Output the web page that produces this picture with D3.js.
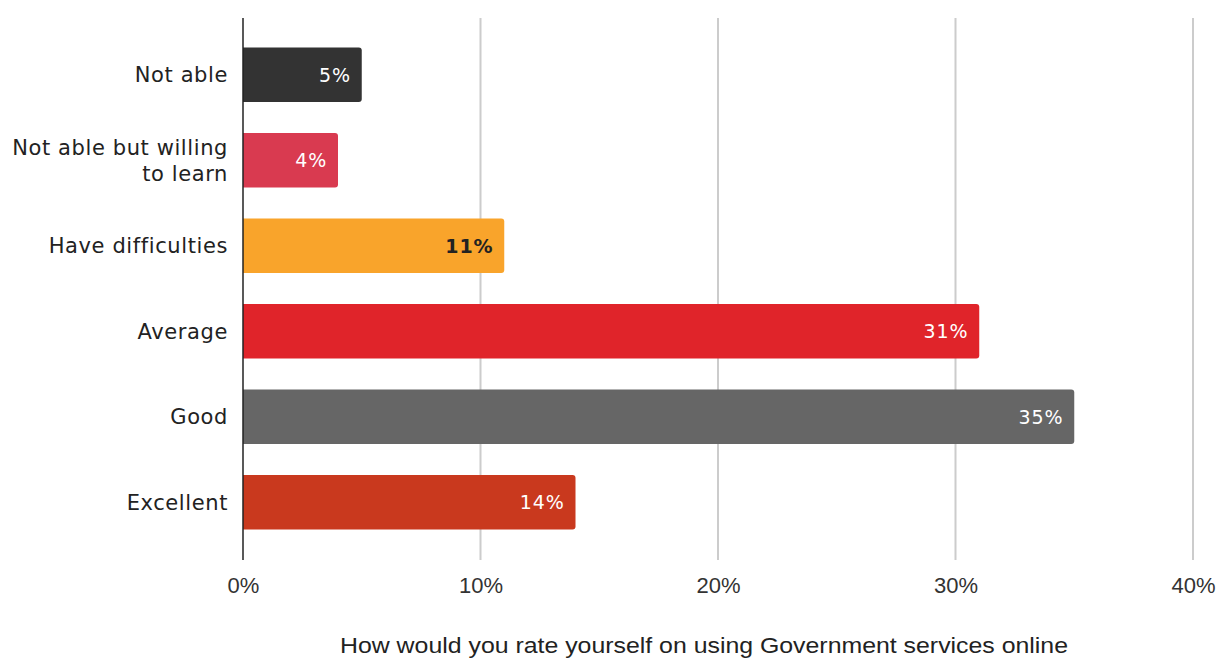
<!DOCTYPE html>
<html>
<head>
<meta charset="utf-8">
<script src="https://cdn.jsdelivr.net/npm/d3@7"></script>
<style>
  body { margin: 0; background: #fff; }
  svg { display: block; }
</style>
</head>
<body>
<svg id="chart" width="1221" height="659"></svg>
<script>
// datos del gráfico
const categorias = [["Not able"], ["Not able but willing", "to learn"], ["Have difficulties"], ["Average"], ["Good"], ["Excellent"]];
const valores = [5, 4, 11, 31, 35, 14];
const colores = ["#333333", "#d93a50", "#f9a42b", "#e0242a", "#666666", "#c9391e"];
const coloresTexto = ["#fff", "#fff", "#222", "#fff", "#fff", "#fff"];
const ticks = [0, 10, 20, 30, 40];
const tituloEje = "How would you rate yourself on using Government services online";

const svg = d3.select("#chart");

const x = d3.scaleLinear().domain([0, 40]).range([243, 1193]);
const y = d3.scaleBand().domain(d3.range(categorias.length)).range([32, 545]).paddingInner(0.36).paddingOuter(0.18);

// líneas de cuadrícula
svg.append("g")
  .selectAll("line")
  .data(ticks.slice(1))
  .enter().append("line")
  .attr("x1", d => x(d)).attr("x2", d => x(d))
  .attr("y1", 18).attr("y2", 560)
  .attr("stroke", "#cccccc").attr("stroke-width", 2);

// barras con esquinas redondeadas a la derecha
const r = 3;
svg.append("g")
  .selectAll("path")
  .data(valores)
  .enter().append("path")
  .attr("fill", (d, i) => colores[i])
  .attr("d", (d, i) => {
    const x0 = x(0), x1 = x(d), y0 = y(i), h = y.bandwidth();
    return `M${x0},${y0} H${x1 - r} Q${x1},${y0} ${x1},${y0 + r} V${y0 + h - r} Q${x1},${y0 + h} ${x1 - r},${y0 + h} H${x0} Z`;
  });

// etiquetas de valor
svg.append("g")
  .selectAll("text")
  .data(valores)
  .enter().append("text")
  .attr("x", d => x(d) - 11)
  .attr("y", (d, i) => y(i) + y.bandwidth() / 2)
  .attr("dy", "0.36em")
  .attr("text-anchor", "end")
  .attr("font-family", "'DejaVu Sans', sans-serif")
  .attr("font-size", 19)
  .attr("letter-spacing", 0.8)
  .attr("font-weight", (d, i) => i === 2 ? "bold" : "normal")
  .attr("fill", (d, i) => coloresTexto[i])
  .text(d => d + "%");

// eje vertical
svg.append("line")
  .attr("x1", x(0)).attr("x2", x(0))
  .attr("y1", 18).attr("y2", 560)
  .attr("stroke", "#222").attr("stroke-width", 1.5);

// etiquetas de categoría
const cat = svg.append("g")
  .selectAll("text")
  .data(categorias)
  .enter().append("text")
  .attr("text-anchor", "end")
  .attr("font-family", "'DejaVu Sans', sans-serif")
  .attr("font-size", 21)
  .attr("letter-spacing", 0.6)
  .attr("fill", "#222")
  .attr("transform", (d, i) => `translate(228,${y(i) + y.bandwidth() / 2})`);

cat.selectAll("tspan")
  .data(d => d.map((t, k) => ({ t, k, n: d.length })))
  .enter().append("tspan")
  .attr("x", 0)
  .attr("y", d => (d.k - (d.n - 1) / 2) * 26)
  .attr("dy", "0.36em")
  .text(d => d.t);

// eje x
const ejeX = d3.axisBottom(x).tickValues(ticks).tickFormat(d => d + "%").tickSize(0);
svg.append("g")
  .attr("transform", "translate(0,574)")
  .call(ejeX)
  .call(g => g.select(".domain").remove())
  .call(g => g.selectAll("text")
    .attr("font-family", "'Liberation Sans', Arial, sans-serif")
    .attr("font-size", 22)
    .attr("fill", "#333"));

// título del eje
svg.append("text")
  .attr("x", 704).attr("y", 653)
  .attr("text-anchor", "middle")
  .attr("font-family", "'Liberation Sans', Arial, sans-serif")
  .attr("font-size", 22)
  .attr("textLength", 728)
  .attr("lengthAdjust", "spacingAndGlyphs")
  .attr("fill", "#222")
  .text(tituloEje);
</script>
</body>
</html>
